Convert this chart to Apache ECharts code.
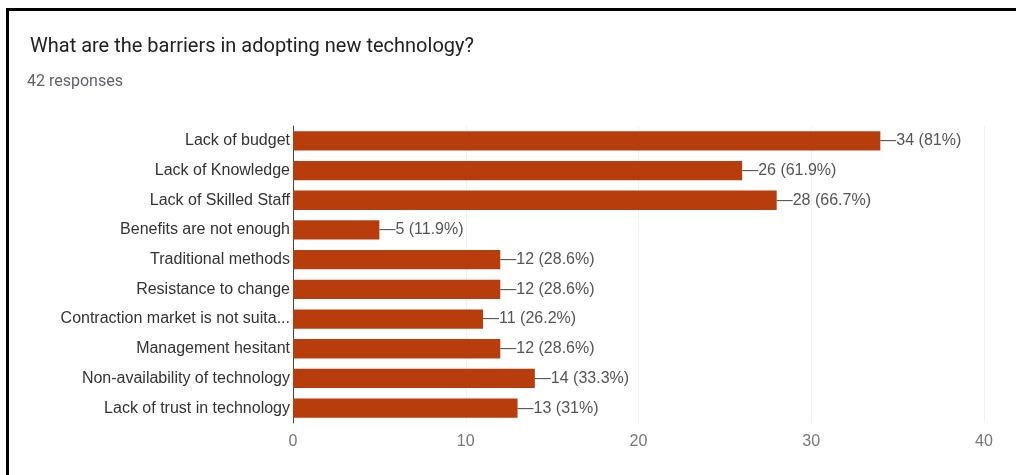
<!DOCTYPE html>
<html>
<head>
<meta charset="utf-8">
<script src="https://cdn.jsdelivr.net/npm/echarts@6/dist/echarts.min.js"></script>
<style>
  html, body { margin: 0; padding: 0; background: #fff; overflow: hidden; }
  #chart { width: 1016px; height: 475px; }
</style>
</head>
<body>
<div id="chart"></div>
<script>
// barriers, top to bottom as in the form summary
const categories = [
  'Lack of budget',
  'Lack of Knowledge',
  'Lack of Skilled Staff',
  'Benefits are not enough',
  'Traditional methods',
  'Resistance to change',
  'Contraction market is not suita...',
  'Management hesitant',
  'Non-availability of technology',
  'Lack of trust in technology'
]
const counts = [34, 26, 28, 5, 12, 12, 11, 12, 14, 13]
const percents = ['81%', '61.9%', '66.7%', '11.9%', '28.6%', '28.6%', '26.2%', '28.6%', '33.3%', '31%']
const xTicks = [0, 10, 20, 30, 40]

const headFont = 'Roboto, "Liberation Sans", Arial, sans-serif'
const bodyFont = '"Liberation Sans", Arial, sans-serif'

const option = {
  backgroundColor: '#fff',
  animation: false,
  title: [
    {
      text: 'What are the barriers in adopting new technology?',
      left: 25,
      top: 32,
      textStyle: { fontSize: 20, fontWeight: 'normal', color: '#202124', fontFamily: headFont }
    },
    {
      text: '42 responses',
      left: 22,
      top: 69,
      textStyle: { fontSize: 16, fontWeight: 'normal', color: '#5f6368', fontFamily: headFont }
    }
  ],
  grid: {
    left: 293,
    right: 32,
    top: 126,
    bottom: 52,
    containLabel: false
  },
  xAxis: {
    type: 'value',
    min: xTicks[0],
    max: xTicks[xTicks.length - 1],
    interval: 10,
    axisLine: { show: false },
    axisTick: { show: false },
    axisLabel: {
      color: '#777',
      fontSize: 16,
      margin: 11,
      fontFamily: bodyFont
    },
    splitLine: { show: true, lineStyle: { color: '#f2f2f2', width: 1 } }
  },
  yAxis: {
    type: 'category',
    data: categories,
    inverse: true,
    axisLine: { show: true, lineStyle: { color: '#444', width: 1 } },
    axisTick: { show: false },
    axisLabel: {
      color: '#333',
      fontSize: 16,
      margin: 3,
      fontFamily: bodyFont
    }
  },
  series: [
    {
      type: 'bar',
      data: counts,
      barCategoryGap: '35%',
      itemStyle: { color: '#b83d0c' },
      label: {
        show: true,
        position: 'right',
        distance: 0,
        color: '#555',
        fontSize: 16,
        fontFamily: bodyFont,
        formatter: (p) => '\u2014' + p.value + ' (' + percents[p.dataIndex] + ')'
      }
    }
  ],
  // black frame around the screenshot: only its top and left edges are inside the picture
  graphic: [
    {
      type: 'rect',
      shape: { x: 6, y: 8, width: 3, height: 480 },
      style: { fill: '#000' },
      silent: true
    },
    {
      type: 'rect',
      shape: { x: 6, y: 8, width: 1030, height: 3 },
      style: { fill: '#000' },
      silent: true
    }
  ]
}

const chart = echarts.init(document.getElementById('chart'), null, { renderer: 'canvas' })
chart.setOption(option)
</script>
</body>
</html>
